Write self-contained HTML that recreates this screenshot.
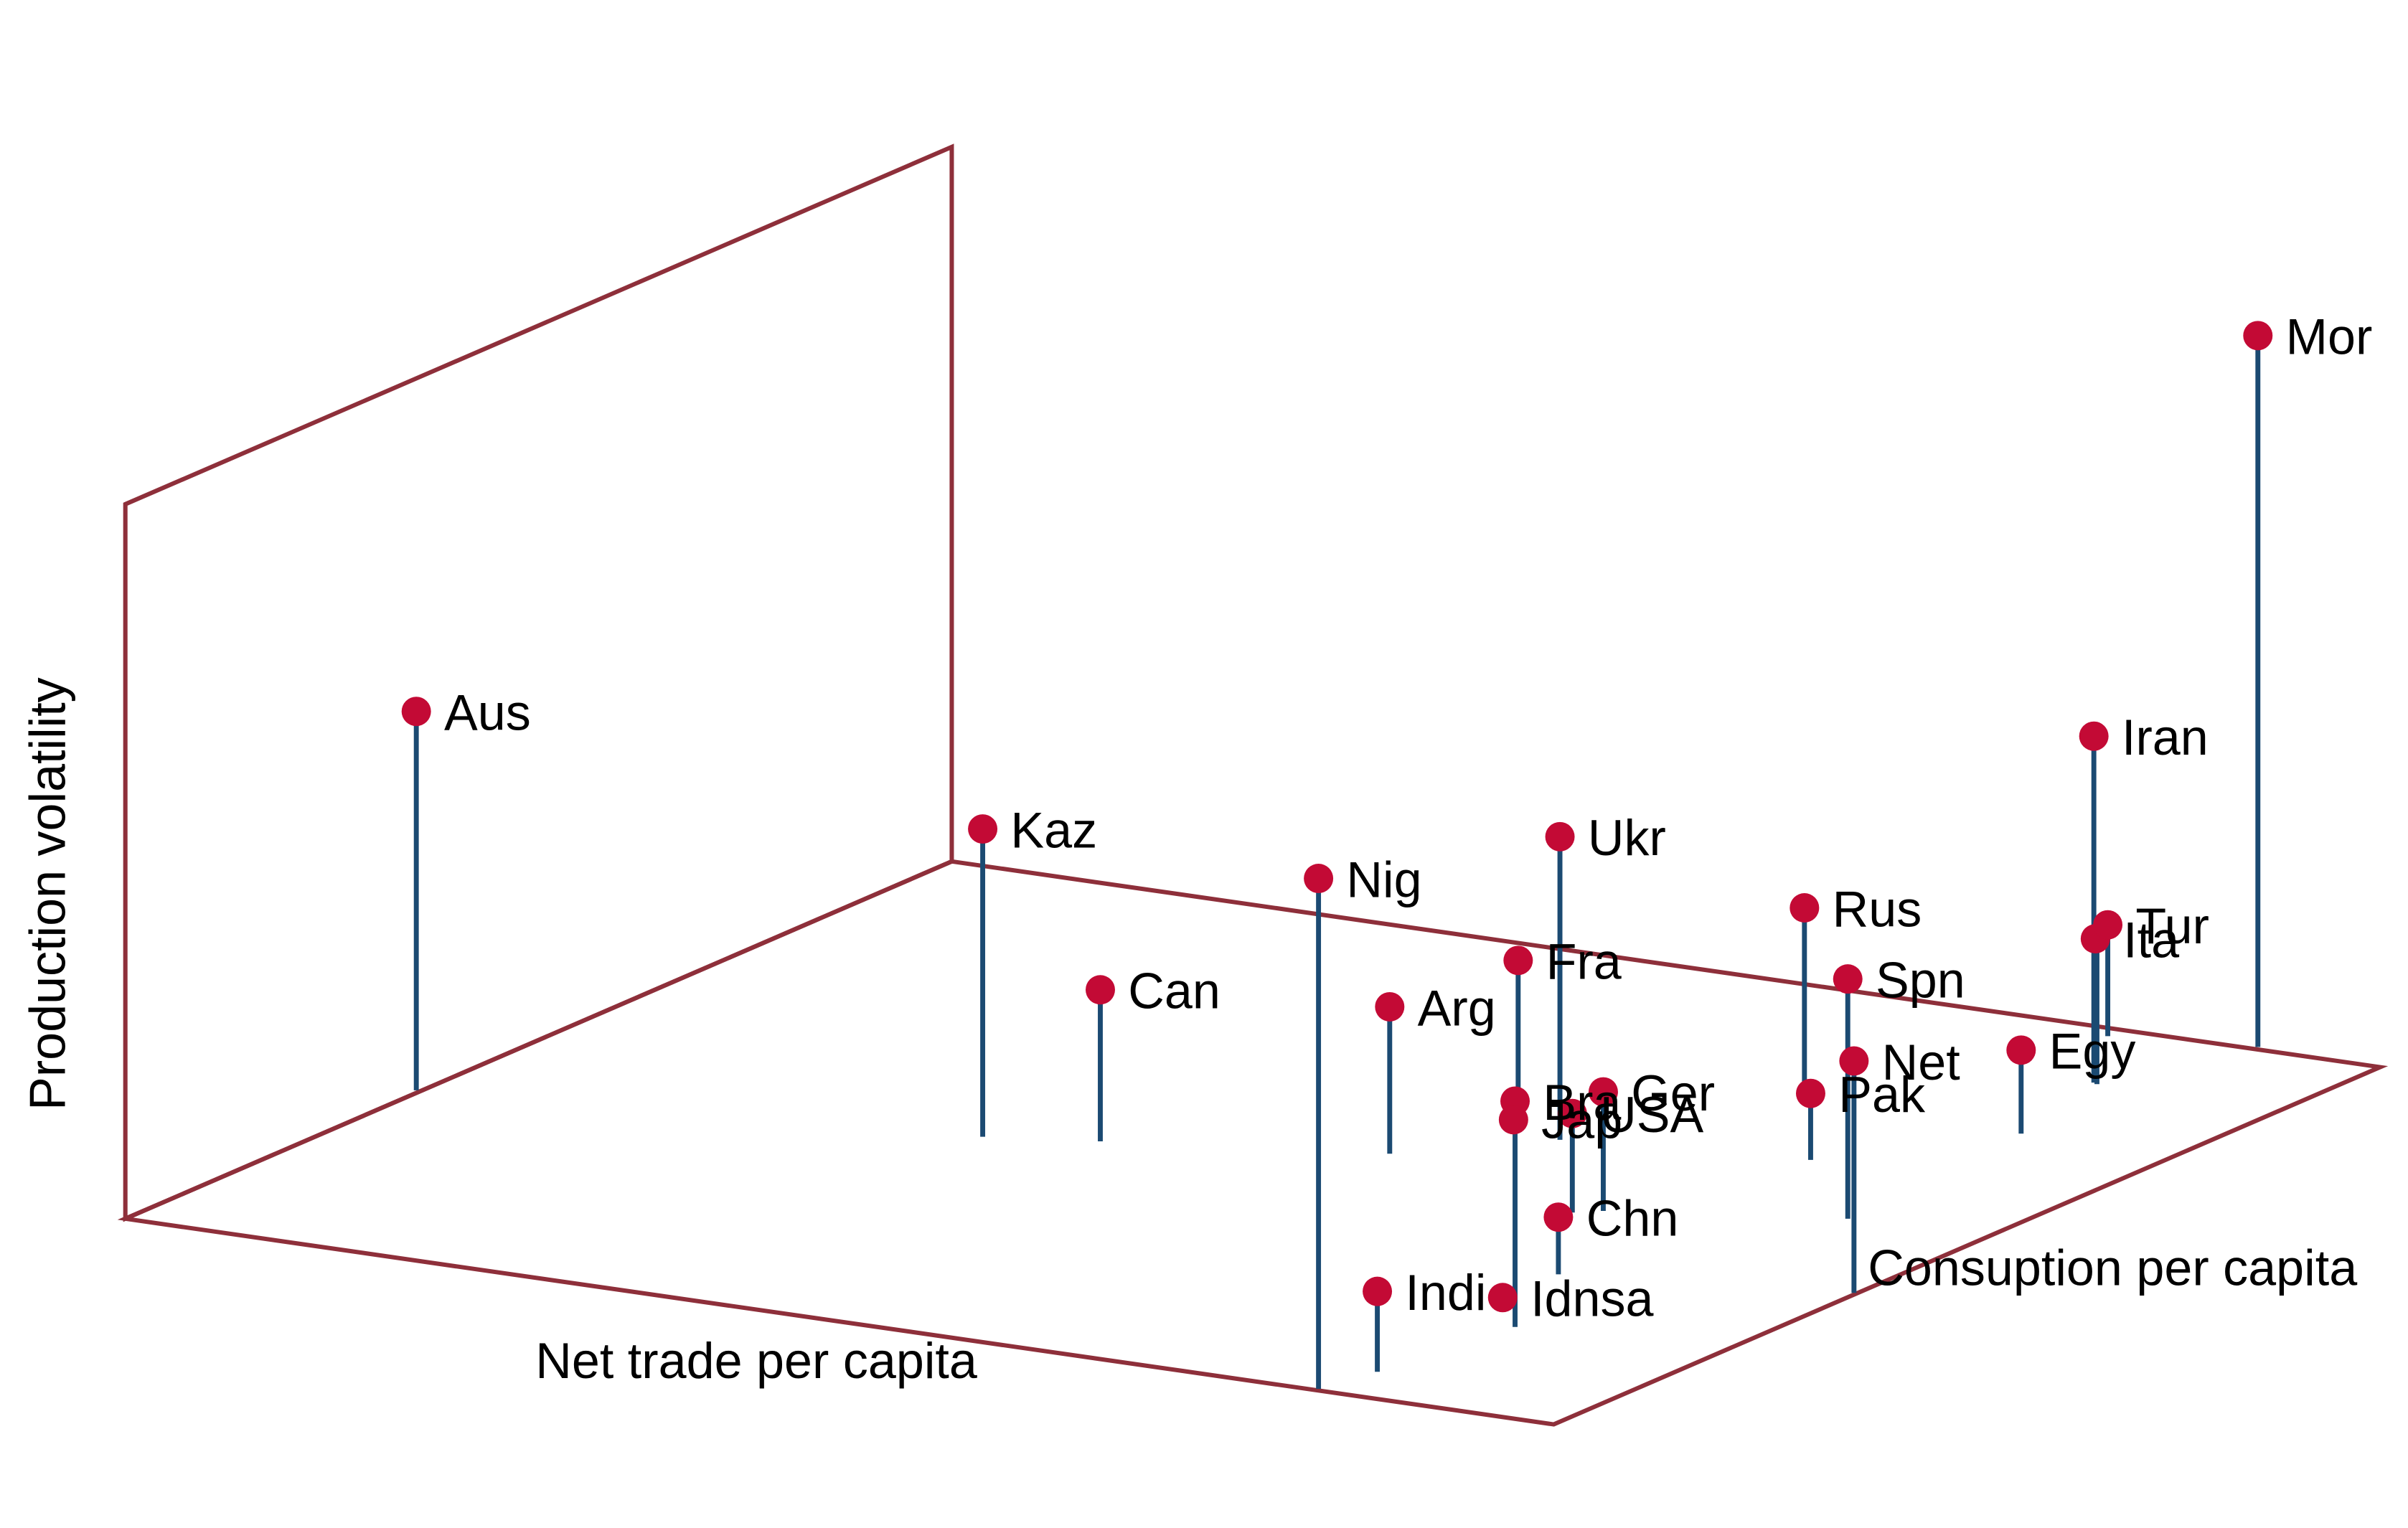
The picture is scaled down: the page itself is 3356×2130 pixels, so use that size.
<!DOCTYPE html>
<html><head><meta charset="utf-8"><style>html,body{margin:0;padding:0;background:#fff}svg{display:block}</style></head>
<body>
<svg width="3356" height="2130" viewBox="0 0 1556 988" preserveAspectRatio="none" xmlns="http://www.w3.org/2000/svg" font-family="Liberation Sans, Arial, sans-serif" font-size="32.5">
<rect width="1556" height="988" fill="#fff"/>
<g fill="none" stroke="#8e2f3a" stroke-width="2.8" stroke-linejoin="miter">
<polygon points="81,326 615,95 615,557 81,788"/>
<polygon points="81,788 615,557 1538,690 1004,921"/>
</g>
<g stroke="#1b4a72" stroke-width="3.2">
<line x1="269" y1="460" x2="269" y2="705"/>
<line x1="635" y1="536" x2="635" y2="735"/>
<line x1="711" y1="640" x2="711" y2="738"/>
<line x1="852" y1="568" x2="852" y2="898"/>
<line x1="898" y1="651" x2="898" y2="746"/>
<line x1="1008" y1="541" x2="1008" y2="737"/>
<line x1="981" y1="621" x2="981" y2="712"/>
<line x1="979" y1="712" x2="979" y2="858"/>
<line x1="1036" y1="706" x2="1036" y2="783"/>
<line x1="1016" y1="720" x2="1016" y2="784"/>
<line x1="1007" y1="787" x2="1007" y2="824"/>
<line x1="890" y1="835" x2="890" y2="887"/>
<line x1="1166" y1="587" x2="1166" y2="700"/>
<line x1="1194" y1="633" x2="1194" y2="788"/>
<line x1="1198" y1="686" x2="1198" y2="836"/>
<line x1="1170" y1="707" x2="1170" y2="750"/>
<line x1="1306" y1="679" x2="1306" y2="733"/>
<line x1="1353" y1="476" x2="1353" y2="700"/>
<line x1="1355" y1="607" x2="1355" y2="701"/>
<line x1="1362" y1="598" x2="1362" y2="670"/>
<line x1="1459" y1="217" x2="1459" y2="677"/>
</g>
<g fill="#c30a35">
<circle cx="269" cy="460" r="9.5"/><circle cx="635" cy="536" r="9.5"/><circle cx="711" cy="640" r="9.5"/>
<circle cx="852" cy="568" r="9.5"/><circle cx="898" cy="651" r="9.5"/><circle cx="1008" cy="541" r="9.5"/>
<circle cx="981" cy="621" r="9.5"/><circle cx="979" cy="712" r="9.5"/><circle cx="978" cy="724" r="9.5"/>
<circle cx="1036" cy="706" r="9.5"/><circle cx="1016" cy="720" r="9.5"/><circle cx="1007" cy="787" r="9.5"/>
<circle cx="971" cy="839" r="9.5"/><circle cx="890" cy="835" r="9.5"/><circle cx="1166" cy="587" r="9.5"/>
<circle cx="1194" cy="633" r="9.5"/><circle cx="1198" cy="686" r="9.5"/><circle cx="1170" cy="707" r="9.5"/>
<circle cx="1306" cy="679" r="9.5"/><circle cx="1353" cy="476" r="9.5"/><circle cx="1354" cy="607" r="9.5"/>
<circle cx="1362" cy="598" r="9.5"/><circle cx="1459" cy="217" r="9.5"/>
</g>
<g fill="#000">
<text x="287" y="472">Aus</text><text x="653" y="548">Kaz</text><text x="729" y="652">Can</text>
<text x="870" y="580">Nig</text><text x="916" y="663">Arg</text><text x="1026" y="553">Ukr</text>
<text x="999" y="633">Fra</text><text x="997" y="724">Bra</text><text x="996" y="736">Jap</text>
<text x="1054" y="718">Ger</text><text x="1034" y="732">USA</text><text x="1025" y="799">Chn</text>
<text x="989" y="851">Idnsa</text><text x="908" y="847">Indi</text><text x="1184" y="599">Rus</text>
<text x="1212" y="645">Spn</text><text x="1216" y="698">Net</text><text x="1188" y="719">Pak</text>
<text x="1324" y="691">Egy</text><text x="1371" y="488">Iran</text><text x="1372" y="619">Ita</text>
<text x="1380" y="610">Tur</text><text x="1477" y="229">Mor</text>
<text x="346" y="891">Net trade per capita</text>
<text x="1207" y="831">Consuption per capita</text>
<text transform="translate(42,578) rotate(-90)" text-anchor="middle">Production volatility</text>
</g>
</svg>
</body></html>
